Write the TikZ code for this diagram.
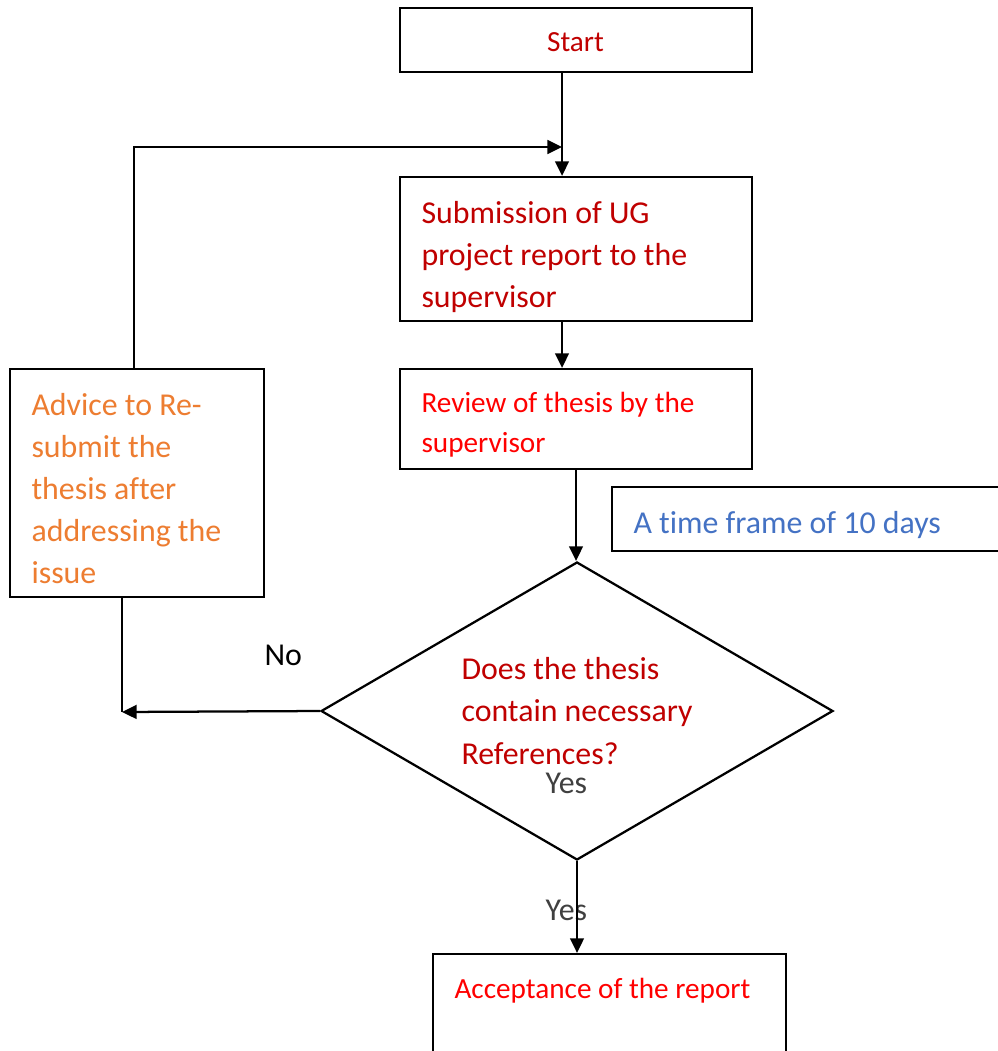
\documentclass[tikz,border=0pt]{standalone}
\usepackage{fontspec}
\setmainfont{Carlito}[Ligatures=NoCommon]
\usetikzlibrary{arrows.meta,shapes.geometric,fit}
\definecolor{dred}{HTML}{C00000}
\definecolor{bred}{HTML}{FF0000}
\definecolor{orng}{HTML}{ED7D31}
\definecolor{blu}{HTML}{4472C4}
\definecolor{gry}{HTML}{404040}
\def\pxu{0.3766pt}
\begin{document}
\begin{tikzpicture}[x=0.3766pt,y=-0.3766pt,
  box/.style={draw, line width=0.85pt, inner sep=0pt, rectangle},
  arr/.style={line width=0.85pt, -{Triangle[length=5.5pt,width=5.2pt]}},
  conn/.style={line width=0.85pt},
  txtL/.style={anchor=base west, inner sep=0pt, align=left, font=\fontsize{12}{15.8}\selectfont},
  txtS/.style={anchor=base west, inner sep=0pt, align=left, font=\fontsize{11}{14.7}\selectfont},
]
\clip (0,0) rectangle (998,1051);
\fill[white] (0,0) rectangle (998,1051);

% boxes
\node[box, fit={(400,8) (752,72)}] (start) {};
\node[box, fit={(400,177) (752,321)}] (sub) {};
\node[box, fit={(400,369) (752,469)}] (rev) {};
\node[box, fit={(612,487) (1020,551)}] (time) {};
\node[box, fit={(10,369) (264,597)}] (adv) {};
\node[box, fit={(433,954) (786,1090)}] (acc) {};
\node[draw, line width=0.85pt, shape=diamond, inner sep=0pt,
      minimum width=512*\pxu, minimum height=298*\pxu] (dia) at (577,711) {};

% texts (multi-line nodes are anchored at the baseline of their last line)
\node[txtS, anchor=base, text=dred] (starttext) at (575.5,52) {Start};
\node[txtL, text=dred] (subtext) at (421,307) {Submission of UG\\project report to the\\supervisor};
\node[txtS, text=bred] (revtext) at (421,452) {Review of thesis by the\\supervisor};
\node[txtL, text=blu] (timetext) at (633,533) {A time frame of 10 days};
\node[txtL, text=orng] (advtext) at (31,583) {Advice to Re-\\submit the\\thesis after\\addressing the\\issue};
\node[txtL, font=\fontsize{12}{16.0}\selectfont, text=dred] (diatext) at (461,764) {Does the thesis\\contain necessary\\References?};
\node[txtL, text=gry] (yes1) at (545,793) {Yes};
\node[txtL, text=gry] (yes2) at (545,920) {Yes};
\node[txtL, text=black] (no) at (264,665) {No};
\node[txtS, text=bred] (acctext) at (454,998) {Acceptance of the report};

% connector helpers
\coordinate (cx1) at (562,0);
\coordinate (cx2) at (134,0);
\coordinate (j1) at (562,147);
\coordinate (j2) at (122,712);

% connectors
\draw[arr] (start.south -| cx1) -- (sub.north -| cx1);
\draw[arr] (adv.north -| cx2) |- (j1);
\draw[arr] (sub.south -| cx1) -- (rev.north -| cx1);
\draw[arr] (rev.south) -- (rev.south |- dia.north);
\draw[conn] (adv.south -| j2) -- (j2);
\draw[arr] (dia.west) -- (j2);
\draw[arr] (dia.south) -- (dia.south |- acc.north);
\end{tikzpicture}
\end{document}
